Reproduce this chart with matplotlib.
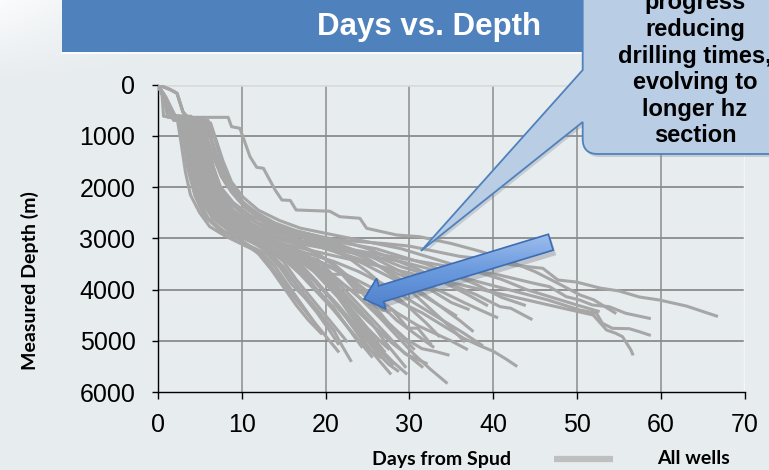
import matplotlib
matplotlib.use('Agg')
import matplotlib.pyplot as plt
import numpy as np
from matplotlib.patches import Rectangle, Polygon, PathPatch
from matplotlib.path import Path
from matplotlib.colors import LinearSegmentedColormap

# each well: (days from spud, measured depth in m)
fast_wells = [
    [(0, 0), (0.5, 150), (0.7, 620), (2.3, 640), (2.8, 1150), (3.3, 1700), (3.9, 2150), (5.0, 2500), (6.2, 2770), (8.0, 2950), (10.5, 3150), (12.5, 3300), (14.0, 3550), (15.5, 3900), (17.0, 4250), (18.3, 4550), (19.5, 4850)],
    [(0, 0), (0.8, 250), (1.2, 640), (2.6, 650), (3.2, 1100), (3.8, 1700), (4.6, 2200), (5.8, 2600), (7.5, 2850), (9.5, 3000), (11.0, 3150), (13.0, 3300), (14.5, 3550), (16.0, 3900), (17.5, 4150), (19.0, 4450), (20.5, 4800), (21.5, 5050)],
    [(0, 0), (1.0, 300), (1.6, 650), (3.0, 660), (3.5, 1100), (4.2, 1700), (5.0, 2200), (6.5, 2600), (8.5, 2850), (11.0, 3050), (13.0, 3250), (15.0, 3550), (16.5, 3900), (18.0, 4200), (19.5, 4500), (21.0, 4800), (22.0, 5100), (23.0, 5380)],
    [(0, 0), (0.7, 200), (1.9, 700), (3.2, 700), (3.8, 1200), (4.5, 1800), (5.5, 2300), (7.0, 2650), (9.0, 2900), (11.5, 3100), (14.0, 3250), (16.0, 3450), (18.0, 3800), (19.5, 4100), (21.0, 4400), (22.5, 4700), (24.3, 5110)],
    [(0, 0), (1.5, 100), (2.3, 170), (3.0, 530), (4.0, 720), (4.6, 1150), (5.3, 1650), (6.1, 2100), (7.3, 2500), (9.2, 2800), (11.2, 3000), (13.5, 3200), (15.5, 3400), (17.5, 3750), (19.0, 4000), (21.0, 4350), (22.5, 4700), (24.0, 5000), (25.0, 5150), (26.5, 5306)],
    [(0, 0), (0.9, 250), (1.5, 600), (4.0, 620), (4.6, 1200), (5.3, 1800), (6.3, 2300), (7.8, 2650), (10.0, 2900), (12.5, 3100), (15.0, 3300), (17.0, 3500), (19.0, 3850), (20.5, 4150), (22.0, 4450), (23.5, 4750), (25.0, 5100), (26.5, 5400), (27.7, 5630)],
    [(0, 0), (1.2, 400), (2.0, 680), (4.5, 700), (5.2, 1300), (6.0, 1900), (7.0, 2300), (8.5, 2600), (10.5, 2850), (13.0, 3050), (15.5, 3250), (18.0, 3500), (20.0, 3850), (22.0, 4200), (23.5, 4550), (25.0, 4850), (26.5, 5150), (28.0, 5400), (29.6, 5630)],
    [(0, 0), (0.8, 300), (1.7, 640), (3.0, 650), (3.6, 1050), (4.3, 1600), (5.2, 2100), (6.5, 2500), (8.2, 2800), (10.5, 3000), (13.0, 3200), (15.0, 3450), (16.5, 3800), (18.0, 4100), (19.5, 4400), (21.0, 4700), (22.5, 5000)],
    [(0, 0), (1.0, 250), (2.2, 650), (5.0, 660), (5.5, 1100), (6.2, 1700), (7.3, 2200), (9.0, 2600), (11.0, 2850), (13.5, 3050), (16.0, 3250), (18.5, 3550), (20.5, 3900), (22.5, 4250), (24.0, 4600), (25.5, 4900), (27.0, 5200)],
    [(0, 0), (0.9, 300), (1.8, 620), (3.5, 630), (4.0, 1000), (4.8, 1600), (5.6, 2050), (7.0, 2450), (9.0, 2750), (11.5, 2950), (14.0, 3100), (16.5, 3300), (19.0, 3550), (21.0, 3900), (23.0, 4250), (25.0, 4600), (27.0, 4900), (28.5, 5100)],
    [(0, 0), (0.6, 180), (1.2, 620), (2.5, 630), (3.0, 1050), (3.6, 1650), (4.4, 2150), (5.5, 2550), (7.2, 2800), (9.5, 3000), (11.5, 3200), (13.0, 3450), (14.5, 3750), (16.0, 4100), (17.5, 4400), (19.0, 4700), (20.5, 5000), (21.5, 5200)],
    [(0, 0), (0.7, 200), (1.4, 610), (2.8, 630), (3.4, 1100), (4.1, 1750), (4.9, 2250), (6.0, 2600), (7.8, 2850), (10.0, 3050), (12.0, 3300), (13.5, 3600), (15.0, 3950), (16.5, 4300), (18.0, 4600), (19.3, 4820)],
    [(0, 0), (0.7, 220), (1.5, 640), (2.9, 650), (3.4, 1000), (4.0, 1500), (4.8, 2000), (6.0, 2450), (8.0, 2750), (10.5, 2950), (12.5, 3150), (14.0, 3400), (15.5, 3700), (17.0, 4000), (18.5, 4300), (20.0, 4600), (21.0, 4800)],
    [(0, 0), (0.8, 250), (1.6, 640), (3.1, 650), (3.7, 1050), (4.4, 1550), (5.3, 2000), (6.7, 2400), (8.8, 2700), (11.2, 2900), (13.5, 3050), (15.5, 3300), (17.5, 3600), (19.5, 3950), (21.5, 4300), (23.0, 4600), (24.5, 4900), (26.0, 5200), (27.5, 5450), (28.6, 5580)],
]

mid_wells = [
    [(0, 0), (1.0, 300), (2.0, 650), (4.2, 660), (4.8, 1150), (5.5, 1700), (6.5, 2200), (8.0, 2550), (10.0, 2800), (12.5, 3000), (15.0, 3200), (17.5, 3450), (19.5, 3800), (21.5, 4150), (23.0, 4500), (24.5, 4800), (25.5, 5050), (26.5, 5250)],
    [(0, 0), (0.9, 280), (1.9, 640), (3.3, 650), (3.9, 1100), (4.6, 1700), (5.4, 2200), (6.8, 2600), (8.8, 2850), (11.0, 3050), (13.5, 3250), (16.0, 3500), (18.5, 3800), (20.5, 4150), (22.5, 4500), (24.5, 4850), (26.5, 5200), (28.0, 5450)],
    [(0, 0), (1.1, 350), (2.2, 680), (5.0, 700), (5.6, 1250), (6.4, 1850), (7.5, 2300), (9.2, 2650), (11.5, 2900), (14.0, 3100), (16.5, 3300), (19.0, 3500), (21.5, 3800), (24.0, 4150), (26.5, 4550), (28.5, 4900), (30.5, 5250), (32.5, 5550), (34.4, 5810)],
    [(0, 0), (0.8, 250), (1.6, 630), (3.8, 650), (4.4, 1100), (5.1, 1650), (6.0, 2150), (7.5, 2550), (9.5, 2800), (12.0, 3000), (14.5, 3200), (17.0, 3450), (19.5, 3750), (22.0, 4100), (24.0, 4450), (26.0, 4750), (28.0, 5050), (30.0, 5300), (31.5, 5500)],
    [(0, 0), (1.0, 300), (2.1, 660), (4.6, 670), (5.1, 1100), (5.8, 1650), (6.8, 2150), (8.3, 2550), (10.5, 2850), (13.0, 3050), (15.5, 3250), (18.0, 3450), (20.5, 3700), (23.0, 4000), (25.5, 4350), (27.5, 4650), (29.5, 4950), (31.5, 5150), (33.0, 5200), (34.6, 5270)],
    [(0, 0), (1.0, 320), (2.3, 680), (4.8, 690), (5.4, 1200), (6.2, 1800), (7.2, 2250), (8.8, 2600), (11.0, 2850), (13.5, 3050), (16.0, 3200), (18.5, 3400), (21.0, 3600), (23.5, 3850), (26.0, 4150), (28.5, 4450), (31.0, 4700), (33.0, 4850), (35.0, 5000), (36.8, 5156)],
    [(0, 0), (0.8, 260), (1.7, 650), (3.6, 660), (4.2, 1150), (4.9, 1750), (5.8, 2250), (7.2, 2600), (9.2, 2850), (11.5, 3050), (14.0, 3250), (16.5, 3500), (18.5, 3800), (20.5, 4150), (22.5, 4550), (24.0, 4900), (25.5, 5200)],
    [(0, 0), (1.0, 300), (1.9, 640), (4.0, 650), (4.6, 1150), (5.3, 1700), (6.2, 2200), (7.6, 2550), (9.8, 2800), (12.0, 3000), (14.5, 3150), (17.0, 3350), (19.5, 3650), (21.5, 3950), (23.5, 4300), (25.5, 4650), (27.0, 5000), (28.5, 5300), (29.5, 5500)],
    [(0, 0), (1.3, 450), (2.5, 700), (5.5, 720), (6.0, 1200), (6.8, 1800), (7.8, 2250), (9.5, 2600), (12.0, 2900), (14.5, 3100), (17.0, 3300), (19.5, 3600), (22.0, 3950), (24.0, 4300), (26.0, 4650), (28.0, 5000), (29.5, 5250), (32.0, 5435)],
    [(0, 0), (0.8, 260), (1.6, 630), (3.2, 640), (3.7, 1050), (4.4, 1600), (5.3, 2100), (6.6, 2500), (8.5, 2750), (10.8, 2950), (13.0, 3150), (15.0, 3400), (17.0, 3700), (19.0, 4050), (21.0, 4400), (23.0, 4800), (24.5, 5100), (25.5, 5300)],
    [(0, 0), (1.0, 320), (2.1, 670), (4.4, 680), (5.0, 1150), (5.7, 1700), (6.6, 2200), (8.0, 2550), (10.2, 2800), (12.8, 3000), (15.3, 3200), (17.5, 3450), (19.5, 3750), (21.5, 4100), (23.5, 4450), (25.0, 4750), (26.5, 5000), (27.5, 5150)],
    [(0, 0), (1.5, 100), (2.3, 170), (3.0, 530), (4.0, 760), (5.5, 770), (6.0, 1150), (6.7, 1650), (7.6, 2100), (9.0, 2450), (11.0, 2700), (13.5, 2900), (16.0, 3050), (18.5, 3250), (21.0, 3500), (23.5, 3850), (26.0, 4200), (28.5, 4600), (31.0, 4900), (32.8, 5111)],
    [(0, 0), (1.0, 300), (2.0, 660), (5.0, 670), (5.8, 1000), (6.6, 1400), (7.6, 1800), (8.8, 2100), (10.4, 2400), (12.5, 2650), (15.0, 2850), (17.5, 3000), (20.0, 3150), (22.5, 3350), (25.0, 3650), (27.5, 4000), (30.0, 4350), (32.0, 4650), (33.5, 4900)],
    [(0, 0), (1.2, 380), (2.3, 690), (5.8, 700), (6.5, 1100), (7.3, 1500), (8.4, 1950), (9.8, 2250), (11.8, 2500), (14.0, 2700), (16.5, 2850), (19.0, 2950), (21.5, 3100), (24.0, 3300), (26.5, 3550), (29.0, 3850), (31.0, 4150), (33.0, 4450), (35.0, 4750), (36.5, 5000)],
    [(0, 0), (0.9, 300), (1.8, 650), (3.4, 660), (4.0, 1000), (4.8, 1500), (5.8, 1950), (7.2, 2350), (9.2, 2650), (11.8, 2850), (14.5, 3000), (17.0, 3150), (19.5, 3350), (22.0, 3650), (24.0, 4000), (26.0, 4350), (27.5, 4650), (29.0, 4900), (30.5, 5150)],
    [(0, 0), (1.1, 330), (2.1, 670), (4.3, 680), (4.9, 1150), (5.6, 1700), (6.5, 2150), (7.9, 2500), (9.9, 2750), (12.3, 2950), (14.8, 3150), (16.0, 3150), (17.8, 3400), (19.0, 3400), (20.8, 3700), (22.0, 3700), (23.8, 4050), (25.0, 4050), (26.8, 4400), (28.0, 4400), (29.8, 4750), (31.0, 4750), (32.5, 5050)],
]

long_wells = [
    [(0, 0), (1.0, 300), (2.0, 650), (4.5, 660), (5.2, 1100), (6.0, 1650), (7.0, 2100), (8.6, 2450), (10.8, 2700), (13.0, 2900), (16.0, 3050), (19.0, 3150), (22.0, 3300), (25.0, 3450), (28.0, 3650), (31.0, 3850), (34.0, 4050), (36.5, 4250), (38.5, 4400), (40.4, 4538)],
    [(0, 0), (1.1, 350), (2.2, 690), (5.0, 700), (5.6, 1200), (6.4, 1750), (7.5, 2200), (9.2, 2550), (11.5, 2800), (14.0, 2950), (17.0, 3050), (20.0, 3150), (23.0, 3250), (26.0, 3350), (29.0, 3550), (32.0, 3700), (35.0, 3900), (38.0, 4100), (40.8, 4330), (42.1, 4363), (44.5, 4571)],
    [(0, 0), (0.9, 280), (1.8, 640), (3.9, 650), (4.5, 1100), (5.2, 1650), (6.2, 2150), (7.8, 2550), (10.0, 2800), (12.5, 3000), (15.0, 3150), (18.0, 3300), (21.0, 3450), (24.0, 3650), (27.0, 3900), (30.0, 4200), (32.5, 4450), (34.5, 4650), (36.5, 4850), (38.6, 5078)],
    [(0, 0), (1.0, 300), (2.0, 650), (5.5, 660), (6.2, 1000), (7.0, 1450), (8.0, 1900), (9.6, 2250), (11.5, 2500), (13.5, 2700), (16.0, 2850), (19.0, 2950), (22.0, 3050), (25.0, 3200), (28.0, 3400), (31.0, 3600), (34.0, 3850), (37.0, 4100), (39.2, 4300)],
    [(0, 0), (1.1, 350), (2.2, 680), (6.0, 700), (6.8, 1050), (7.6, 1500), (8.6, 1900), (10.2, 2300), (12.0, 2550), (14.0, 2750), (16.5, 2900), (19.5, 3000), (22.5, 3100), (26.0, 3200), (29.0, 3350), (32.0, 3500), (35.0, 3700), (38.0, 3900), (41.0, 4150), (43.7, 4300)],
    [(0, 0), (0.9, 280), (1.9, 650), (4.8, 660), (5.6, 1050), (6.5, 1550), (7.5, 2000), (9.0, 2300), (11.0, 2550), (13.5, 2750), (16.0, 2900), (19.0, 3050), (22.0, 3200), (25.0, 3400), (28.0, 3700), (31.0, 4000), (33.5, 4300), (36.0, 4600), (37.5, 4800)],
    [(0, 0), (1.2, 400), (2.4, 700), (5.3, 720), (5.9, 1250), (6.7, 1800), (7.8, 2250), (9.5, 2600), (12.0, 2900), (14.5, 3100), (17.0, 3300), (20.0, 3500), (23.0, 3750), (26.0, 4000), (29.0, 4250), (31.5, 4450), (34.0, 4700), (36.5, 4950), (38.5, 5100), (40.0, 5200), (41.5, 5350), (42.7, 5481)],
    [(0, 0), (0.8, 250), (1.8, 640), (4.2, 650), (5.0, 950), (5.9, 1400), (6.9, 1850), (8.2, 2200), (10.0, 2500), (12.0, 2700), (14.5, 2850), (17.0, 2950), (20.0, 3050), (23.0, 3200), (26.0, 3400), (29.0, 3650), (32.0, 3950), (35.0, 4250), (37.0, 4380)],
    [(0, 0), (1.0, 320), (2.0, 660), (4.8, 670), (5.5, 1050), (6.3, 1500), (7.2, 1950), (8.6, 2300), (10.6, 2600), (13.0, 2800), (15.5, 2950), (18.0, 3100), (21.0, 3250), (24.0, 3450), (27.0, 3700), (30.0, 3950), (33.0, 4250), (35.5, 4500)],
]

horizontal_wells = [
    [(0, 0), (1.0, 300), (2.0, 650), (4.4, 660), (5.0, 1100), (5.8, 1650), (6.8, 2100), (8.4, 2450), (10.5, 2700), (13.0, 2850), (16.0, 2950), (19.5, 3000), (23.0, 3050), (27.0, 3100), (30.0, 3150), (33.0, 3250), (36.0, 3350), (39.0, 3400), (42.3, 3518), (45.9, 3583), (47.7, 3811), (49.9, 3850), (52.7, 3967), (55.0, 4025), (57.4, 4142), (59.8, 4201), (63.0, 4318), (66.6, 4513)],
    [(0, 0), (0.9, 280), (1.9, 650), (4.0, 660), (4.6, 1100), (5.3, 1650), (6.3, 2150), (7.9, 2500), (10.0, 2750), (12.5, 2900), (15.5, 3000), (19.0, 3100), (22.5, 3200), (26.0, 3300), (29.5, 3400), (33.0, 3500), (36.5, 3600), (40.7, 3713), (44.7, 3870), (46.7, 3941), (48.7, 4136), (50.3, 4201), (51.8, 4298), (53.8, 4331), (55.8, 4460), (58.6, 4558)],
    [(0, 0), (1.0, 320), (2.1, 670), (4.6, 680), (5.2, 1150), (5.9, 1700), (6.9, 2200), (8.5, 2550), (10.5, 2800), (12.0, 2950), (15.0, 3050), (18.5, 3150), (22.0, 3250), (25.5, 3350), (29.0, 3450), (32.5, 3600), (36.0, 3750), (39.5, 3900), (43.0, 4050), (46.5, 4200), (50.3, 4396), (52.3, 4460), (53.0, 4655), (54.2, 4753), (56.2, 4760), (57.4, 4818), (58.6, 4883)],
    [(0, 0), (0.8, 250), (1.7, 640), (3.7, 650), (4.3, 1100), (5.0, 1650), (6.0, 2150), (7.6, 2550), (9.8, 2800), (12.5, 3000), (16.0, 3150), (20.0, 3300), (24.0, 3450), (28.0, 3600), (32.0, 3750), (36.0, 3900), (40.0, 4050), (44.0, 4200), (48.0, 4350), (51.9, 4493), (53.5, 4786), (54.6, 4850), (55.4, 4916), (56.4, 5175), (56.6, 5253)],
    [(0, 0), (0.7, 200), (1.5, 640), (6.8, 640), (8.4, 640), (8.8, 822), (9.8, 854), (11.0, 1407), (11.8, 1614), (12.6, 1634), (14.0, 2057), (14.8, 2251), (15.8, 2260), (16.5, 2446), (20.5, 2470), (21.7, 2577), (24.1, 2608), (24.9, 2803), (28.5, 2934), (31.2, 2967), (35.0, 3100), (38.6, 3259), (42.0, 3450), (45.0, 3650), (48.0, 3900), (50.3, 4100), (52.0, 4200), (54.5, 4450)],
    [(0, 0), (1.5, 100), (2.3, 170), (3.0, 530), (4.0, 740), (6.3, 750), (7.0, 1100), (7.8, 1500), (8.8, 1900), (10.2, 2200), (12.0, 2450), (14.5, 2650), (17.0, 2800), (20.0, 2900), (23.0, 3000), (26.0, 3100), (29.0, 3200), (32.0, 3350), (35.0, 3500), (38.0, 3650), (41.0, 3800), (44.0, 4000), (47.0, 4150), (50.0, 4300), (52.5, 4420)],
]

x_ticks = [0, 10, 20, 30, 40, 50, 60, 70]
y_ticks = [0, 1000, 2000, 3000, 4000, 5000, 6000]

W, H = 769, 470
bg = '#e7ecef'
fig = plt.figure(figsize=(W / 100, H / 100), dpi=100, facecolor=bg)
ax = fig.add_axes([157.7 / W, 1 - 392.3 / H, (745 - 157.7) / W, (392.3 - 84.5) / H])
ax.set_facecolor(bg)

for well in fast_wells + mid_wells + long_wells + horizontal_wells:
    d, m = zip(*well)
    ax.plot(d, m, color='#a6a6a6', lw=2.2, zorder=3)

ax.set_xlim(0, 70)
ax.set_ylim(6000, 0)
ax.set_xticks(x_ticks)
ax.set_yticks(y_ticks)
for y in y_ticks[1:-1]:
    ax.axhline(y, color='#7a7a7a', lw=1.1, zorder=1)
for x in x_ticks[1:-1]:
    ax.axvline(x, color='#8c8c8c', lw=1.1, zorder=1)
ax.axhline(0, color='#d8dadc', lw=1.8, zorder=1)
ax.axvline(70, color='#f3f5f7', lw=2.5, zorder=1)

for s in ['top', 'right']:
    ax.spines[s].set_visible(False)
for s in ['left', 'bottom']:
    ax.spines[s].set_color('black')
    ax.spines[s].set_linewidth(1.0)
ax.tick_params(axis='y', length=4, width=1, pad=12, labelsize=18)
ax.tick_params(axis='x', length=5, width=1, pad=10, labelsize=18)
for lab in ax.get_xticklabels() + ax.get_yticklabels():
    lab.set_family('Liberation Sans')

# overlay in image pixel coordinates for the slide decorations
ov = fig.add_axes([0, 0, 1, 1], zorder=5)
ov.axis('off')
ov.patch.set_alpha(0)

# whitish glow in the top-left corner
gx = np.clip(1 - np.linspace(0, 1, 160) / 1.0, 0, 1)
gy = np.clip(1 - np.linspace(0, 1, 80), 0, 1)
glow = np.ones((80, 160, 4))
glow[..., 3] = 0.85 * np.outer(gy, gx)
ov.imshow(glow, extent=(0, 160, 80, 0), origin='upper', aspect='auto', zorder=1)

# title banner
ov.add_patch(Rectangle((62, -2), 520.7, 54, fc='#4f81bd', ec='none', zorder=2))
ov.plot([62, 582.7], [53, 53], color='white', lw=1.2, zorder=2)
ov.text(541, 27, 'Days vs. Depth', ha='right', va='center', color='white',
        fontsize=22.5, fontweight='bold', family='Liberation Sans', zorder=3)

# callout
verts = [(582.7, -20), (582.7, 70), (421, 251), (582.7, 122), (582.7, 139),
         (582.7, 154), (597.7, 154), (790, 154), (790, -20), (582.7, -20)]
codes = [Path.MOVETO, Path.LINETO, Path.LINETO, Path.LINETO, Path.LINETO,
         Path.CURVE3, Path.CURVE3, Path.LINETO, Path.LINETO, Path.CLOSEPOLY]
shadow = Path([(x + 2, y + 3) for x, y in verts], codes)
ov.add_patch(PathPatch(shadow, fc='#8a939c', ec='none', alpha=0.35, zorder=3))
ov.add_patch(PathPatch(Path(verts, codes), fc='#b9cde5', ec='#4f81bd', lw=1.3, zorder=4))
ov.text(695, 69.5, 'progress\nreducing\ndrilling times,\nevolving to\nlonger hz\nsection',
        ha='center', va='center', multialignment='center', fontsize=17, fontweight='bold',
        family='Liberation Sans', linespacing=1.2, zorder=5)

# block arrow
T = np.array([550.8, 242.2])
P = np.array([364.0, 299.0])
u = (P - T) / np.linalg.norm(P - T)
n = np.array([-u[1], u[0]])
hw, hh, hl = 8.3, 16.0, 18.0
B = P - u * hl
pts = np.array([T + n * hw, B + n * hw, B + n * hh, P, B - n * hh, B - n * hw, T - n * hw])
ov.add_patch(Polygon(pts + [3, 5], closed=True, fc='#6f7780', ec='none', alpha=0.35, zorder=6))
arrow = Polygon(pts, closed=True, fc='none', ec='#3c6cb4', lw=1.2, zorder=8)
ov.add_patch(arrow)
cmap = LinearSegmentedColormap.from_list('arr', ['#a9c6f0', '#6b9ade', '#4a7cc8'])
grad = np.linspace(0, 1, 100).reshape(-1, 1)
im = ov.imshow(grad, cmap=cmap, extent=(355, 565, 315, 225), origin='upper',
               aspect='auto', zorder=7)
im.set_clip_path(arrow)

# axis titles and legend
ov.text(30, 281, 'Measured Depth (m)', rotation=90, ha='center', va='center',
        fontsize=14, fontweight='bold', family='Lato')
ov.text(442, 459, 'Days from Spud', ha='center', va='center',
        fontsize=14, fontweight='bold', family='Lato')
ov.plot([554, 613], [459, 459], color='#bfbfbf', lw=4.5, solid_capstyle='butt')
ov.text(693, 459, 'All wells', ha='center', va='center',
        fontsize=14, fontweight='bold', family='Lato')

ov.set_xlim(0, W)
ov.set_ylim(H, 0)

fig.savefig('out.png', dpi=100, facecolor=bg)
